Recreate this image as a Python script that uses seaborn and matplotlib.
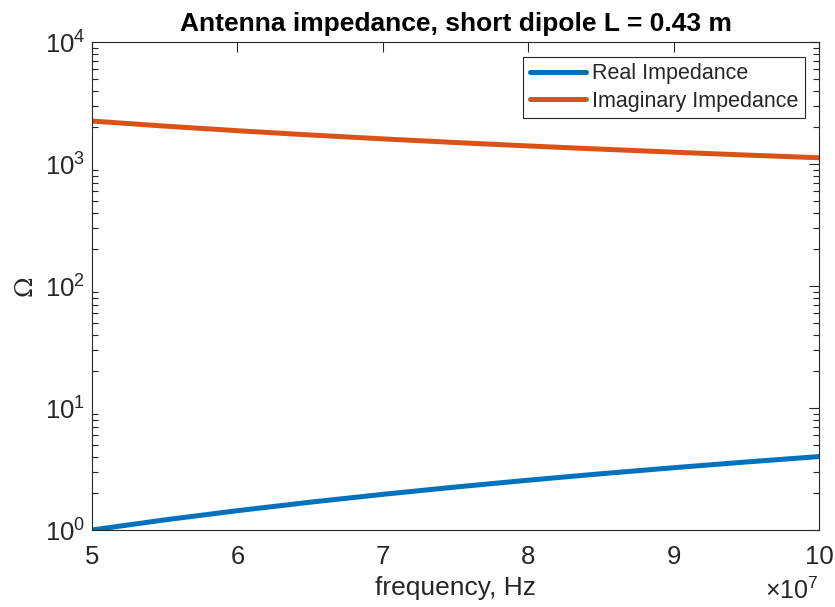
import numpy as np
import pandas as pd
import matplotlib
matplotlib.use("Agg")
import matplotlib.pyplot as plt
import matplotlib.ticker as mticker
import seaborn as sns

freq_hz = [5.0e7, 5.5e7, 6.0e7, 6.5e7, 7.0e7, 7.5e7, 8.0e7, 8.5e7, 9.0e7, 9.5e7, 1.0e8]
real_imp = [1.00, 1.21, 1.44, 1.69, 1.96, 2.25, 2.56, 2.89, 3.24, 3.61, 4.00]
imag_imp = [2250, 2045, 1875, 1730, 1607, 1500, 1406, 1324, 1250, 1184, 1125]
series_names = ["Real Impedance", "Imaginary Impedance"]
x_ticks = [5e7, 6e7, 7e7, 8e7, 9e7, 1e8]
title = "Antenna impedance, short dipole L = 0.43 m"

sns.set_theme(style="white")
plt.rcParams["font.family"] = ["Liberation Sans", "DejaVu Sans"]
plt.rcParams["mathtext.fontset"] = "custom"
plt.rcParams["mathtext.rm"] = "Liberation Sans"
plt.rcParams["mathtext.it"] = "Liberation Sans"

df = pd.DataFrame({
    "freq": freq_hz * 2,
    "value": real_imp + imag_imp,
    "series": [series_names[0]] * len(freq_hz) + [series_names[1]] * len(freq_hz),
})

fig = plt.figure(figsize=(8.35, 6.07), dpi=100)
ax = fig.add_axes([92 / 835, 77 / 607, 727 / 835, 488 / 607])
sns.lineplot(data=df, x="freq", y="value", hue="series", hue_order=series_names,
             palette=["#0072BD", "#D95319"], linewidth=3.6, ax=ax)

ax.set_yscale("log")
ax.set_xlim(5e7, 1e8)
ax.set_ylim(1, 1e4)
ax.set_xticks(x_ticks)
ax.xaxis.set_major_formatter(mticker.FuncFormatter(lambda v, p: f"{v/1e7:g}"))
ax.yaxis.set_major_locator(mticker.LogLocator(base=10, numticks=10))
ax.yaxis.set_minor_locator(mticker.LogLocator(base=10, subs=np.arange(2, 10), numticks=10))
ax.yaxis.set_major_formatter(mticker.FuncFormatter(
    lambda v, p: r"$\mathregular{10^{%d}}$" % int(round(np.log10(v)))))

tc = "#262626"
for s in ax.spines.values():
    s.set_color(tc)
    s.set_linewidth(0.8)
    s.set_visible(True)
ax.tick_params(axis="both", which="both", direction="in", top=True, right=True,
               colors=tc, labelsize=18.5, width=0.8)
ax.tick_params(axis="both", which="major", length=7)
ax.tick_params(axis="y", which="minor", length=4, left=True, right=True)
ax.tick_params(axis="x", pad=11)
ax.tick_params(axis="y", pad=5)

ax.set_title(title, fontsize=19, fontweight="bold", color="black", pad=8)
ax.set_xlabel("frequency, Hz", fontsize=19, color=tc, labelpad=5)
ax.set_ylabel("Ω", fontsize=18, color=tc, family=["DejaVu Serif"], labelpad=6)
ax.text(1.0, -0.098, "×" + r"$\mathregular{10^{7}}$", transform=ax.transAxes,
        ha="right", va="top", fontsize=18, color=tc)

leg = ax.legend(loc="upper right", fontsize=15.5, frameon=True, fancybox=False,
                edgecolor=tc, framealpha=1, borderpad=0.3, handlelength=2.6,
                handletextpad=0.3, labelspacing=0.3, borderaxespad=0,
                bbox_to_anchor=(713 / 727, 1 - 15 / 488))
leg.get_frame().set_linewidth(0.8)
leg.set_title(None)

fig.savefig("out.png", dpi=100)
